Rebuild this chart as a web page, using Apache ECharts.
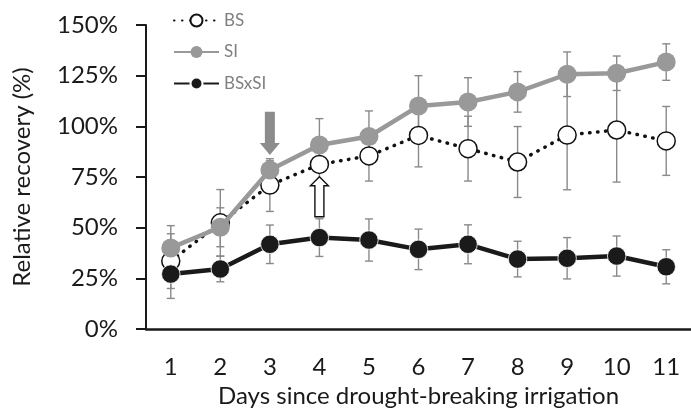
<!DOCTYPE html>
<html>
<head>
<meta charset="utf-8">
<script src="https://cdn.jsdelivr.net/npm/echarts@6/dist/echarts.min.js"></script>
<style>
html,body{margin:0;padding:0;background:#fff;}
#chart{width:691px;height:415px;}
</style>
</head>
<body>
<div id="chart"></div>
<script>
// ---- data ----
var days = ['1','2','3','4','5','6','7','8','9','10','11'];
var yTicks = [0, 25, 50, 75, 100, 125, 150];
var BS     = [33.5, 52.4, 71.0, 81.2, 85.4, 95.5, 89.0, 82.4, 95.7, 98.2, 92.8];
var BS_err = [13.5, 16.4, 13.0, 12.0, 12.4, 15.5, 16.0, 17.5, 27.0, 25.7, 17.0];
var SI     = [40.0, 50.2, 78.5, 90.8, 95.0, 110.0, 112.0, 117.0, 125.7, 126.2, 131.7];
var SI_err = [11.0, 9.6, 4.5, 13.0, 12.6, 15.0, 12.0, 10.0, 11.0, 8.5, 9.0];
var BSxSI     = [27.1, 29.6, 41.8, 45.1, 43.9, 39.3, 41.8, 34.5, 34.9, 36.0, 30.7];
var BSxSI_err = [12.0, 6.3, 9.5, 9.3, 10.4, 10.0, 9.6, 8.8, 10.2, 9.9, 8.4];
// annotation arrows: day, tip value, tail value
var arrowDays = ['3', '4'];
var arrowTip  = [85.9, 75.1];
var arrowTail = [107.2, 55.4];

// ---- build ----
function errData(v, e) {
  return v.map(function (val, i) { return [i, val - e[i], val + e[i]]; });
}
function errSeries(v, e, z) {
  return {
    type: 'custom', z: z, silent: true,
    data: errData(v, e),
    renderItem: function (params, api) {
      var lo = api.coord([api.value(0), api.value(1)]);
      var hi = api.coord([api.value(0), api.value(2)]);
      var cw = 4;
      var st = { stroke: '#8a8a8a', lineWidth: 1.4 };
      return { type: 'group', children: [
        { type: 'line', shape: { x1: lo[0], y1: lo[1], x2: hi[0], y2: hi[1] }, style: st },
        { type: 'line', shape: { x1: lo[0]-cw, y1: lo[1], x2: lo[0]+cw, y2: lo[1] }, style: st },
        { type: 'line', shape: { x1: hi[0]-cw, y1: hi[1], x2: hi[0]+cw, y2: hi[1] }, style: st }
      ]};
    }
  };
}
var arrowData = arrowDays.map(function (d, i) { return [days.indexOf(d), arrowTip[i], arrowTail[i], i]; });
var arrowStyles = [
  { fill: '#8c8c8c', stroke: null, lineWidth: 0, sw: 5, hw: 10, hl: 12 },
  { fill: '#ffffff', stroke: '#111111', lineWidth: 1.4, sw: 4.5, hw: 9, hl: 9 }
];

var chart = echarts.init(document.getElementById('chart'), null, { renderer: 'canvas' });
var font = 'Lato, "Open Sans", sans-serif';
chart.setOption({
  animation: false,
  backgroundColor: '#fff',
  grid: { left: 146, top: 25, width: 549, height: 304, containLabel: false },
  legend: {
    orient: 'vertical', left: 168, top: 7,
    itemWidth: 45, itemHeight: 15, itemGap: 14.5,
    selectedMode: false,
    textStyle: { color: '#808080', fontSize: 17, fontFamily: font },
    data: ['BS', 'SI', 'BSxSI']
  },
  xAxis: {
    type: 'category', data: days, boundaryGap: true,
    name: 'Days since drought-breaking irrigation', nameLocation: 'middle', nameGap: 55,
    nameTextStyle: { color: '#1a1a1a', fontSize: 24, fontFamily: font },
    axisLine: { lineStyle: { color: '#1a1a1a', width: 2.5 } },
    axisTick: { show: false },
    axisLabel: { color: '#1a1a1a', fontSize: 24, fontFamily: font, margin: 26 },
    splitLine: { show: false }
  },
  yAxis: {
    type: 'value', min: yTicks[0], max: yTicks[yTicks.length-1], interval: yTicks[1]-yTicks[0],
    name: 'Relative recovery (%)', nameLocation: 'middle', nameGap: 112,
    nameTextStyle: { color: '#1a1a1a', fontSize: 24, fontFamily: font },
    axisLine: { show: true, lineStyle: { color: '#1a1a1a', width: 2 } },
    axisTick: { show: true, inside: false, length: 10, lineStyle: { color: '#1a1a1a', width: 2 } },
    axisLabel: { color: '#1a1a1a', fontSize: 24, fontFamily: font, margin: 28, formatter: '{value}%' },
    splitLine: { show: false }
  },
  series: [
    errSeries(BS, BS_err, 1),
    errSeries(SI, SI_err, 1),
    errSeries(BSxSI, BSxSI_err, 1),
    {
      name: 'BS', type: 'line', data: BS, z: 2,
      symbol: 'circle', symbolSize: 18, showSymbol: true,
      lineStyle: { color: '#111', width: 3.5, type: [0.5, 7.5], cap: 'round' },
      itemStyle: { color: '#ffffff', borderColor: '#111', borderWidth: 1.5 },
      emphasis: { disabled: true }
    },
    {
      name: 'SI', type: 'line', data: SI, z: 3,
      symbol: 'circle', symbolSize: 19, showSymbol: true,
      lineStyle: { color: '#999999', width: 4.5 },
      itemStyle: { color: '#999999', borderColor: '#999999', borderWidth: 0 },
      emphasis: { disabled: true }
    },
    {
      name: 'BSxSI', type: 'line', data: BSxSI, z: 4,
      symbol: 'circle', symbolSize: 18.5, showSymbol: true,
      lineStyle: { color: '#1a1a1a', width: 4.5 },
      itemStyle: { color: '#1a1a1a', borderColor: '#ffffff', borderWidth: 0.8 },
      emphasis: { disabled: true }
    },
    {
      type: 'custom', z: 5, silent: true, data: arrowData,
      renderItem: function (params, api) {
        var tip = api.coord([api.value(0), api.value(1)]);
        var tail = api.coord([api.value(0), api.value(2)]);
        var s = arrowStyles[api.value(3)];
        var x = tip[0], d = tail[1] > tip[1] ? 1 : -1;
        var yh = tip[1] + d * s.hl;
        var pts = [[x, tip[1]], [x + s.hw, yh], [x + s.sw, yh], [x + s.sw, tail[1]],
                   [x - s.sw, tail[1]], [x - s.sw, yh], [x - s.hw, yh]];
        return { type: 'polygon', shape: { points: pts },
                 style: { fill: s.fill, stroke: s.stroke, lineWidth: s.lineWidth } };
      }
    }
  ]
});
</script>
</body>
</html>
